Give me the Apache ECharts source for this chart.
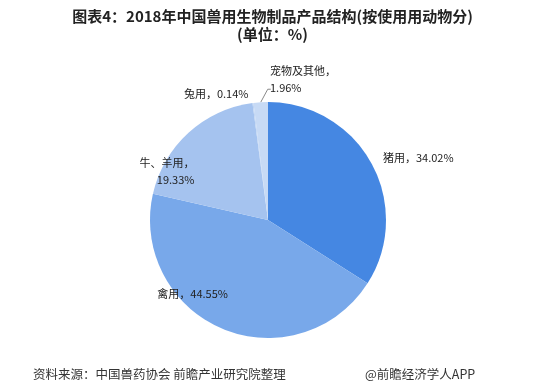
<!DOCTYPE html>
<html><head><meta charset="utf-8">
<script src="https://cdn.jsdelivr.net/npm/echarts@6/dist/echarts.min.js"></script>
<style>html,body{margin:0;padding:0;background:#fff}#c{width:545px;height:387px}</style>
</head><body><div id="c"></div>
<script>
var categories = ['猪用', '禽用', '牛、羊用', '兔用', '宠物及其他'];
var values = [34.02, 44.55, 19.33, 0.14, 1.96];
var colors = ['#4587E2', '#78A8EA', '#A5C3EF', '#BCD3F3', '#C7DAF5'];
var labelText = ['猪用，34.02%', '禽用，44.55%', '牛、羊用，\n19.33%', '兔用，0.14%', '宠物及其他，\n1.96%'];
var labelShift = [[-8, 0], [19, -46], [23, 47], [6, 3], [19, -11]];

var chart = echarts.init(document.getElementById('c'));
var data = categories.map(function (c, i) {
  return {
    name: c, value: values[i],
    itemStyle: { color: colors[i] },
    label: { formatter: labelText[i] },
    labelLine: { show: i === 4, length: 12, length2: 4, lineStyle: { color: '#888', width: 1 } }
  };
});
chart.setOption({
  animation: false,
  title: {
    text: '图表4：2018年中国兽用生物制品产品结构(按使用用动物分)\n(单位：%)',
    left: 'center', top: 2,
    textStyle: { fontFamily: 'Noto Sans CJK SC', fontWeight: 'bold', fontSize: 15, color: '#222', lineHeight: 18 }
  },
  graphic: [
    { type: 'text', left: 33, top: 368, style: { text: '资料来源：中国兽药协会 前瞻产业研究院整理', font: '12.5px "Noto Sans CJK SC"', fill: '#333' } },
    { type: 'text', left: 365, top: 368, style: { text: '@前瞻经济学人APP', font: '12.5px "Noto Sans CJK SC"', fill: '#333' } }
  ],
  series: [{
    type: 'pie',
    center: [268, 220],
    radius: [0, 118],
    startAngle: 90,
    clockwise: true,
    avoidLabelOverlap: false,
    data: data,
    label: {
      show: true, position: 'outside', color: '#222', fontSize: 11,
      fontFamily: 'Noto Sans CJK SC', lineHeight: 17
    },
    labelLine: { length: 0, length2: 0 },
    labelLayout: function (p) {
      var s = labelShift[p.dataIndex];
      var o = { dx: s[0], dy: s[1] };
      if (p.dataIndex === 4) {
        o.align = 'left';
        if (p.labelLinePoints && p.labelLinePoints.length) {
          var a = p.labelLinePoints[0];
          var b = [a[0] + 7, a[1] - 13];
          o.labelLinePoints = [a, b, [b[0] + 3, b[1]]];
        }
      }
      return o;
    }
  }]
});
</script></body></html>
